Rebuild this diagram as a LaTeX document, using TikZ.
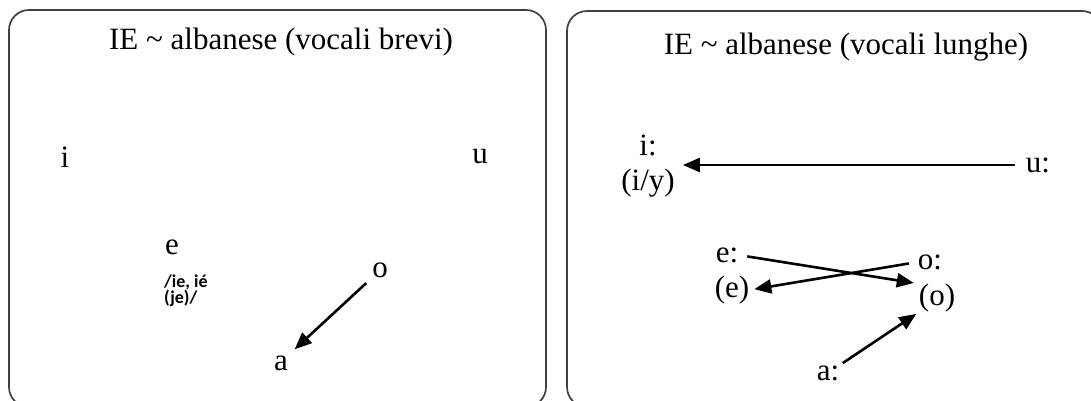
\documentclass[tikz,border=0pt]{standalone}
\usepackage{fontspec}
\setmainfont{Liberation Serif}
\newfontfamily\smallsans{Carlito}
\usetikzlibrary{arrows.meta}
\begin{document}
\begin{tikzpicture}[x=1pt,y=-1pt,
  panel/.style={draw=black!75, line width=1.7pt, rounded corners=20pt},
  vow/.style={inner sep=0pt, font=\fontsize{31}{37}\selectfont},
  ttl/.style={inner sep=0pt, font=\fontsize{31}{37}\selectfont},
  arr/.style={line width=2.6pt, -{Triangle[length=17pt,width=14pt]}},
  note/.style={inner sep=0pt, align=left, font=\smallsans\bfseries\fontsize{18}{16}\selectfont}]
\useasboundingbox (0,0) rectangle (1091,400);
% panels
\draw[panel] (9,10) rectangle (546,407);
\draw[panel] (567,11) rectangle (1102,407);
% titles
\node[ttl] (t1) at (281,42) {IE \textasciitilde{} albanese (vocali brevi)};
\node[ttl] (t2) at (846,47) {IE \textasciitilde{} albanese (vocali lunghe)};
% left panel
\node[vow] (li) at (65,157) {i};
\node[vow] (lu) at (480,157) {u};
\node[vow] (le) at (172,247) {e};
\node[note, anchor=west] (lnote) at (164,291) {/ie, ié\\(je)/};
\node[vow] (lo) at (380,270) {o};
\node[vow] (la) at (281,363) {a};
\draw[arr, shorten <=8pt, shorten >=9pt] (lo.south west) -- (la.north east);
% right panel
\node[vow] (ri) at (648,145) {i:};
\node[vow] (riy) at (648,183) {(i/y)};
\node[vow] (ru) at (1038,165) {u:};
\node[vow] (re1) at (727,255) {e:};
\node[vow] (re2) at (732,290) {(e)};
\node[vow] (ro1) at (930,262) {o:};
\node[vow] (ro2) at (937,298) {(o)};
\node[vow] (ra) at (828,373) {a:};
\draw[arr, shorten <=11pt, shorten >=8pt] (ru.west) -- (ru.west -| riy.east);
\draw[arr, shorten <=9pt, shorten >=5pt] (re1.east) -- (ro2.north west);
\draw[arr, shorten <=9pt, shorten >=5pt] (ro1.west) -- (re2.east);
\draw[arr, shorten <=4pt, shorten >=3pt] (ra.north east) -- (ro2.south west);
\end{tikzpicture}
\end{document}
